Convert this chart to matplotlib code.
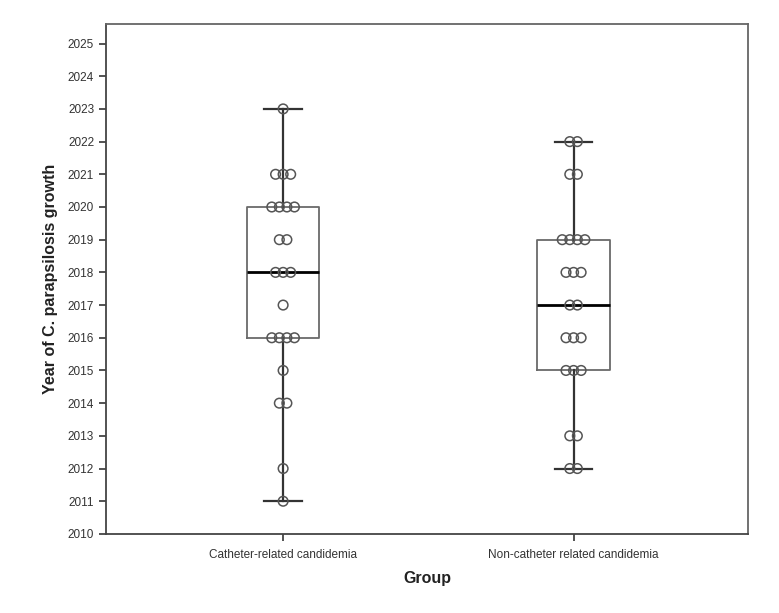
import numpy as np
import matplotlib.pyplot as plt

# year of growth per patient
catheter_years = [2011, 2012, 2014, 2014, 2015, 2016, 2016, 2016, 2016, 2017,
                  2018, 2018, 2018, 2019, 2019, 2020, 2020, 2020, 2020,
                  2021, 2021, 2021, 2023]
noncatheter_years = [2012, 2012, 2013, 2013, 2015, 2015, 2015, 2016, 2016, 2016,
                     2017, 2017, 2018, 2018, 2018, 2019, 2019, 2019, 2019,
                     2021, 2021, 2022, 2022]
group_labels = ["Catheter-related candidemia", "Non-catheter related candidemia"]
yticks = list(range(2010, 2026))

plt.rcParams['font.family'] = ['Liberation Sans Narrow', 'Liberation Sans', 'DejaVu Sans']

fig = plt.figure(figsize=(7.79, 6.13), dpi=100)
ax = fig.add_axes([0.136, 0.129, 0.824, 0.832])

data = [catheter_years, noncatheter_years]
bp = ax.boxplot(data, positions=[1, 2], widths=0.25, whis=(0, 100),
                patch_artist=False, showfliers=False)
for b in bp['boxes']:
    b.set(color='#6a6a6a', linewidth=1.3)
for w in bp['whiskers']:
    w.set(color='#333333', linewidth=1.6)
for c in bp['caps']:
    c.set(color='#333333', linewidth=1.6)
for m in bp['medians']:
    m.set(color='black', linewidth=2)
for c in bp['caps']:
    mid = c.get_xdata().mean()
    c.set_xdata([mid - 0.065, mid + 0.065])

spacing = 0.026
for pos, yrs in zip([1, 2], data):
    vals, counts = np.unique(yrs, return_counts=True)
    for v, n in zip(vals, counts):
        xs = pos + (np.arange(n) - (n - 1) / 2) * spacing
        ax.scatter(xs, [v] * n, s=48, facecolors='none', edgecolors='#555555',
                   linewidths=1.1, zorder=3)

ax.set_xlim(0.39, 2.6)
ax.set_ylim(2010, 2025.6)
ax.set_yticks(yticks)
ax.set_yticklabels([str(y) for y in yticks], fontsize=8.5, color='#333333')
ax.set_xticks([1, 2])
ax.set_xticklabels(group_labels, fontsize=8.5, color='#333333')
ax.tick_params(axis='both', length=5, width=1.3, color='#444444')
ax.tick_params(axis='x', pad=6)
for s in ax.spines.values():
    s.set_linewidth(1.3)
    s.set_color('#666666')
ax.spines['left'].set_color('#444444')
ax.spines['bottom'].set_color('#444444')

ax.set_xlabel("Group", fontsize=11.5, fontweight='bold', family=['Liberation Sans', 'DejaVu Sans'],
              color='#222222', labelpad=7)
ax.set_ylabel("Year of C. parapsilosis growth", fontsize=11.5, fontweight='bold',
              family=['Liberation Sans', 'DejaVu Sans'], color='#222222', labelpad=7)

fig.savefig("out.png", dpi=100)
